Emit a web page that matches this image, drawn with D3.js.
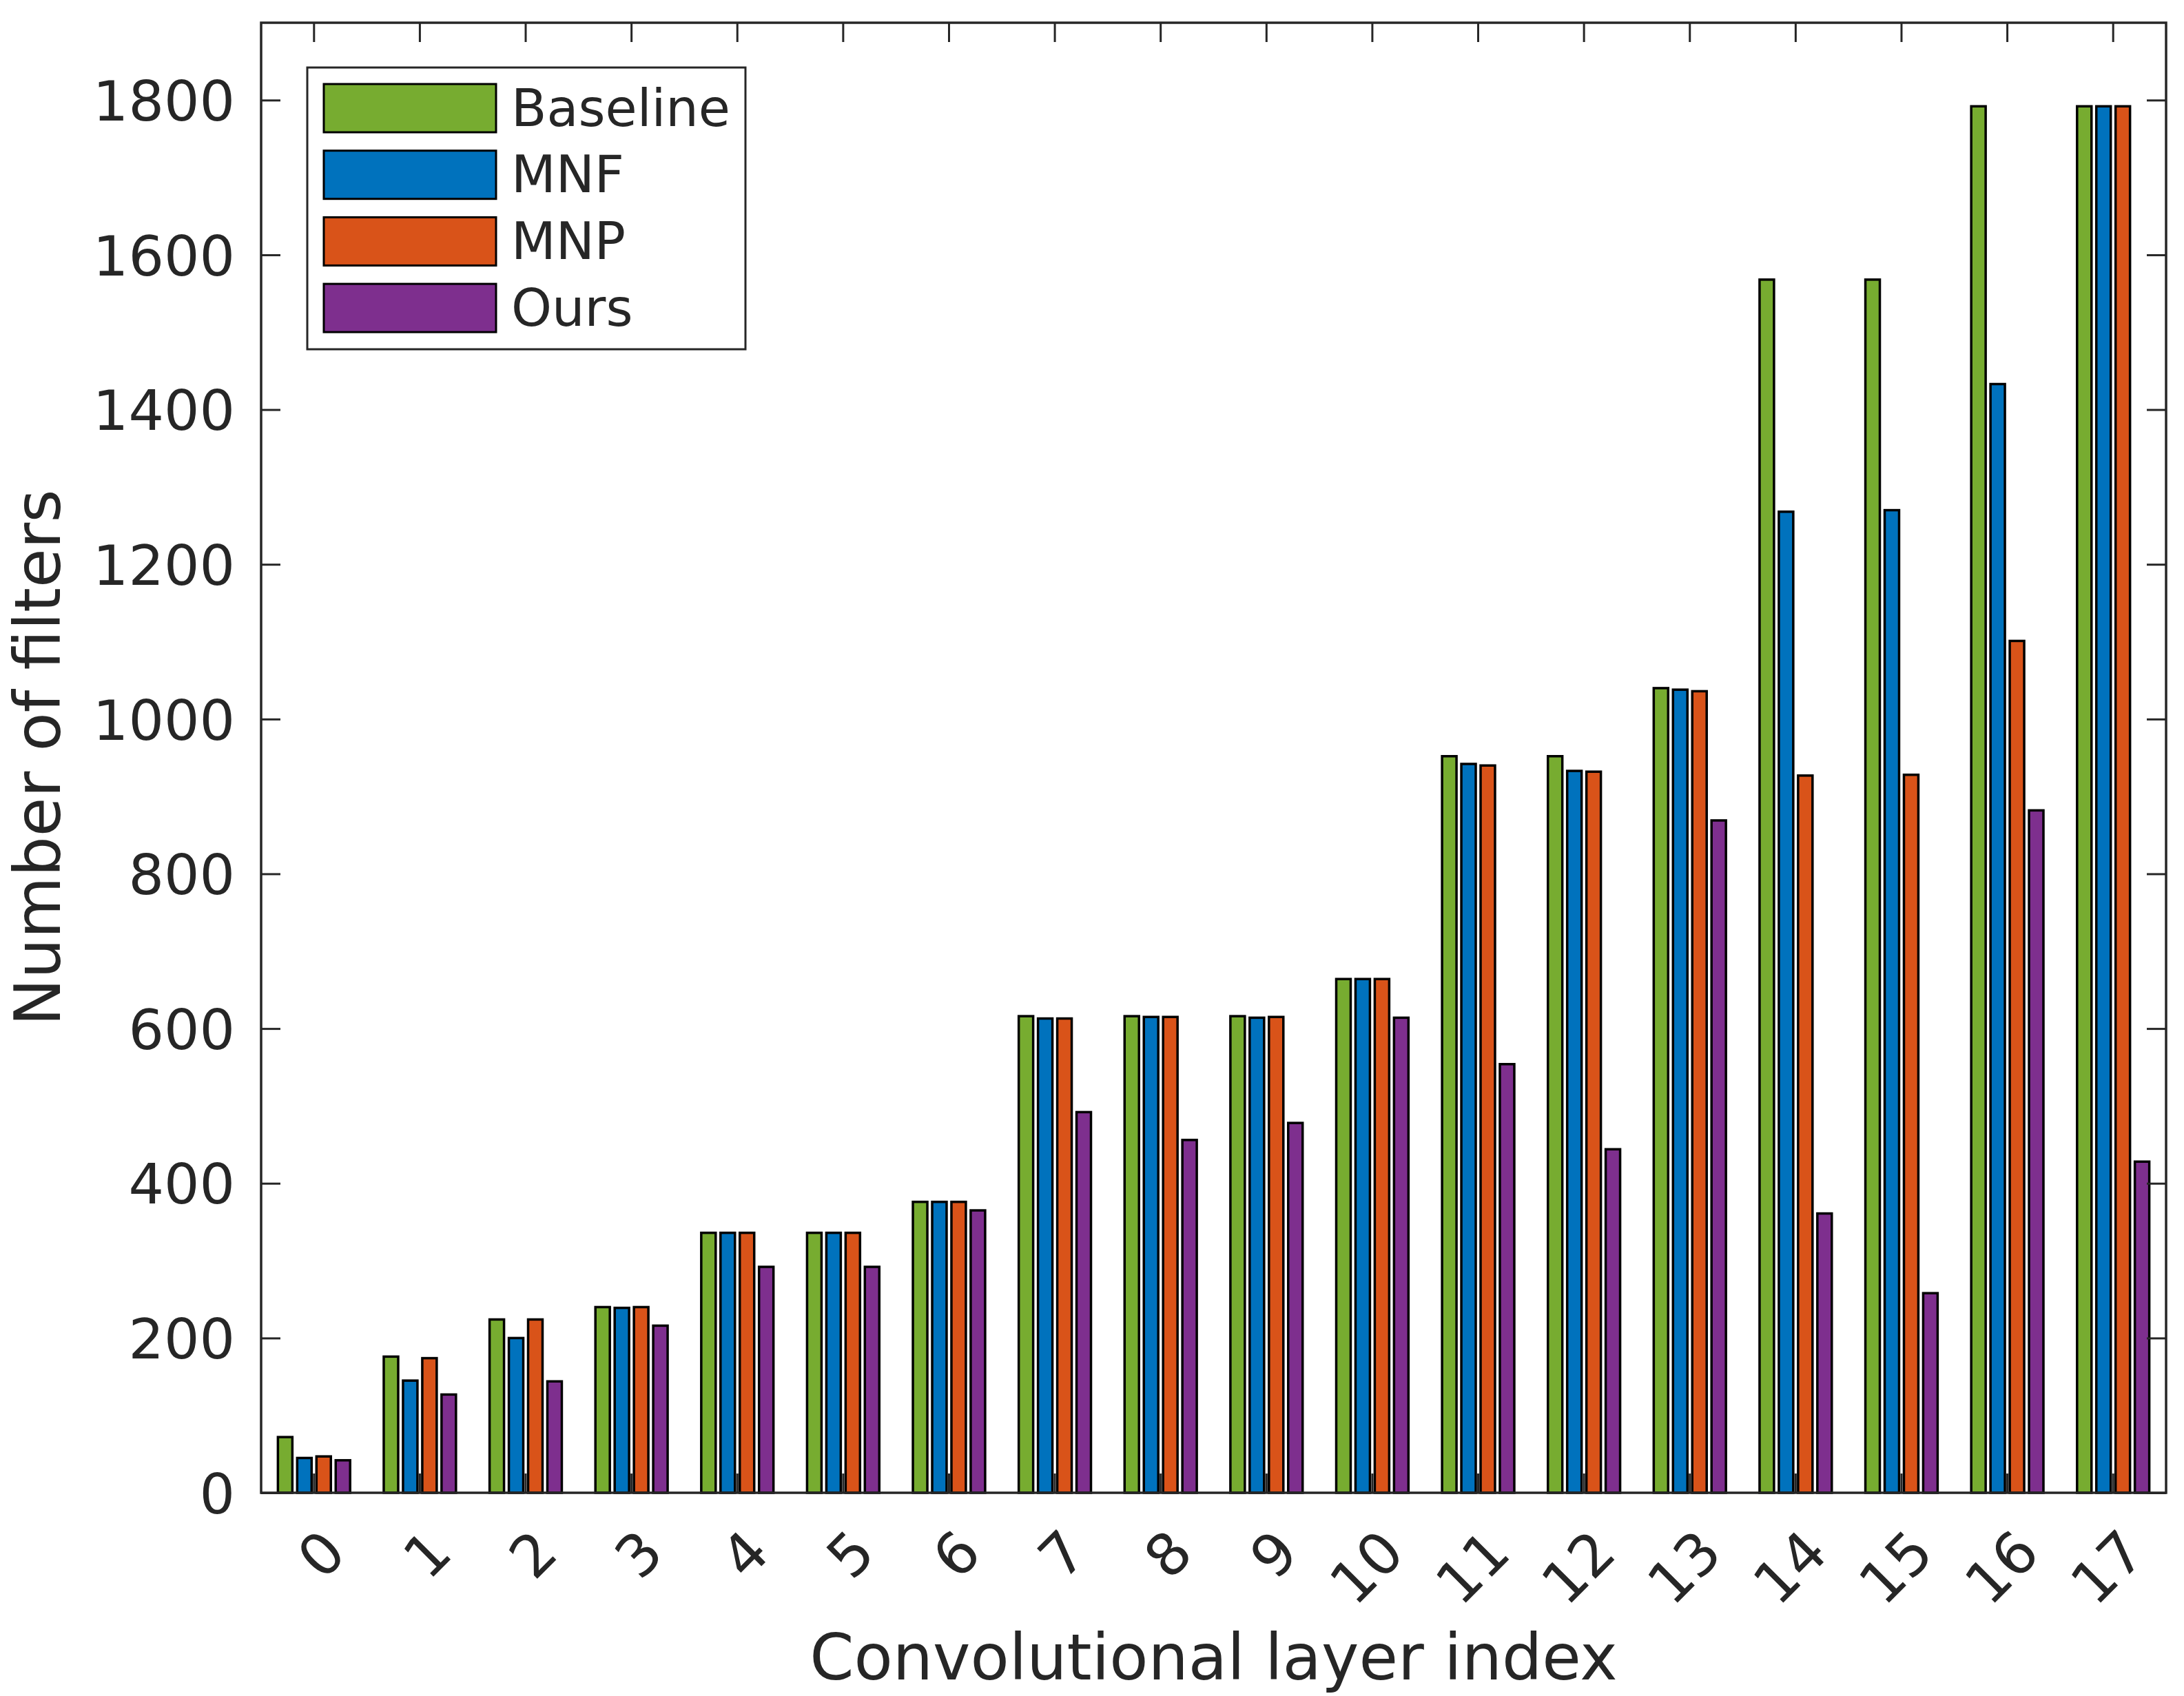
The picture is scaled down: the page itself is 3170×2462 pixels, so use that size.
<!DOCTYPE html>
<html>
<head>
<meta charset="utf-8">
<script src="https://cdn.jsdelivr.net/npm/d3@7"></script>
<style>
body { margin: 0; background: #ffffff; }
text { font-family: "DejaVu Sans", sans-serif; fill: #262626; }
</style>
</head>
<body>
<svg id="filtergraph"></svg>
<script>
// number of filters per convolutional layer
var layers = ["0","1","2","3","4","5","6","7","8","9","10","11","12","13","14","15","16","17"]
var baseline = [72, 176, 224, 240, 336, 336, 376, 616, 616, 616, 664, 952, 952, 1040, 1568, 1568, 1792, 1792]
var mnf      = [45, 145, 200, 239, 336, 336, 376, 613, 615, 614, 664, 942, 933, 1038, 1268, 1270, 1433, 1792]
var mnp      = [47, 174, 224, 240, 336, 336, 376, 613, 615, 615, 664, 940, 932, 1036, 927, 928, 1101, 1792]
var ours     = [42, 127, 144, 216, 292, 292, 365, 492, 456, 478, 614, 554, 444, 869, 361, 258, 882, 428]

var seriesNames = ["Baseline", "MNF", "MNP", "Ours"]
var seriesColors = ["#77AC30", "#0072BD", "#D95319", "#7E2F8E"]
var yTicks = [0, 200, 400, 600, 800, 1000, 1200, 1400, 1600, 1800]
var yMax = 1900

//draws the grouped bars, one pass per series
var drawBars = function(target, series, xScale, yScale)
{
    var band = xScale.bandwidth()
    var slot = band * 0.182
    var barW = slot * 0.75

    series.forEach(function(s, k)
    {
        target.append("g")
              .classed("series", true)
              .selectAll("rect")
              .data(s.values)
              .enter()
              .append("rect")
              .attr("x", function(v, i)
              {
                  return xScale(layers[i]) + band / 2 + (k - 1.5) * slot - barW / 2
              })
              .attr("y", function(v) { return yScale(v) })
              .attr("width", barW)
              .attr("height", function(v) { return yScale(0) - yScale(v) })
              .attr("fill", s.color)
              .attr("stroke", "#000000")
              .attr("stroke-width", 3.5)
    })
}

//all four sides, ticks pointing inward like the original figure
var drawAxes = function(svg, plot, xScale, yScale)
{
    var tickLen = 28

    var styleAxis = function(g)
    {
        g.select(".domain").remove()
        g.selectAll(".tick line")
         .attr("stroke", "#262626")
         .attr("stroke-width", 3)
    }

    var xAxis = d3.axisBottom(xScale).tickSize(-tickLen).tickSizeOuter(0)
    var gx = svg.append("g")
       .attr("transform", "translate(0," + plot.bottom + ")")
       .call(xAxis)
       .call(styleAxis)
    gx.selectAll(".tick text")
      .attr("y", null)
      .attr("dy", "0.93em")
      .attr("text-anchor", "end")
      .attr("transform", "translate(-5,36) rotate(-45)")
      .style("font-size", "84px")
      .attr("fill", "#262626")

    var yAxis = d3.axisLeft(yScale)
        .tickValues(yTicks)
        .tickFormat(d3.format("d"))
        .tickSize(-tickLen)
        .tickSizeOuter(0)
        .tickPadding(38)
    var gy = svg.append("g")
       .attr("transform", "translate(" + plot.left + ",0)")
       .call(yAxis)
       .call(styleAxis)
    gy.selectAll(".tick text")
      .style("font-size", "81px")
      .attr("fill", "#262626")
      .attr("dy", "0.36em")

    svg.append("g")
       .attr("transform", "translate(0," + plot.top + ")")
       .call(d3.axisTop(xScale).tickSize(-tickLen).tickSizeOuter(0).tickFormat(""))
       .call(styleAxis)

    svg.append("g")
       .attr("transform", "translate(" + plot.right + ",0)")
       .call(d3.axisRight(yScale).tickValues(yTicks).tickSize(-tickLen).tickSizeOuter(0).tickFormat(""))
       .call(styleAxis)

    //box around the plot area
    svg.append("rect")
       .attr("x", plot.left)
       .attr("y", plot.top)
       .attr("width", plot.right - plot.left)
       .attr("height", plot.bottom - plot.top)
       .attr("fill", "none")
       .attr("stroke", "#262626")
       .attr("stroke-width", 3.5)
}

var drawLabels = function(svg, plot)
{
    var labels = svg.append("g").classed("labels", true)

    //x-axis
    labels.append("text")
          .text("Convolutional layer index")
          .attr("text-anchor", "middle")
          .attr("x", (plot.left + plot.right) / 2)
          .attr("y", 2438)
          .style("font-size", "92px")

    //y-axis
    labels.append("g")
          .attr("transform", "translate(87," + ((plot.top + plot.bottom) / 2) + ")")
          .append("text")
          .text("Number of filters")
          .attr("text-anchor", "middle")
          .attr("transform", "rotate(-90)")
          .style("font-size", "92px")
}

var drawLegend = function(svg, series)
{
    var legend = svg.append("g")
                    .classed("legend", true)
                    .attr("transform", "translate(446,98)")

    legend.append("rect")
          .attr("width", 636)
          .attr("height", 409)
          .attr("fill", "#ffffff")
          .attr("stroke", "#262626")
          .attr("stroke-width", 3)

    var entries = legend.selectAll("g.legendEntry")
                        .data(series)
                        .enter()
                        .append("g")
                        .classed("legendEntry", true)
                        .attr("transform", function(s, index)
                        {
                            return "translate(0," + (59 + index * 96.7) + ")"
                        })

    entries.append("rect")
           .attr("x", 24)
           .attr("y", -35)
           .attr("width", 250)
           .attr("height", 70)
           .attr("fill", function(s) { return s.color })
           .attr("stroke", "#000000")
           .attr("stroke-width", 3)

    entries.append("text")
           .text(function(s) { return s.name })
           .attr("x", 296)
           .attr("dy", "0.34em")
           .style("font-size", "75px")
           .attr("fill", "#000000")
}

var initFilterGraph = function()
{
    var screen = {width: 3170, height: 2462}
    var plot = {left: 379, right: 3144, top: 33, bottom: 2167}

    var svg = d3.select("#filtergraph")
                .attr("width", screen.width)
                .attr("height", screen.height)

    var xScale = d3.scaleBand()
        .domain(layers)
        .range([plot.left, plot.right])
        .padding(0)

    var yScale = d3.scaleLinear()
        .domain([0, yMax])
        .range([plot.bottom, plot.top])

    var series = [baseline, mnf, mnp, ours].map(function(values, k)
    {
        return {name: seriesNames[k], color: seriesColors[k], values: values}
    })

    drawBars(svg.append("g").classed("bars", true), series, xScale, yScale)
    drawAxes(svg, plot, xScale, yScale)
    drawLabels(svg, plot)
    drawLegend(svg, series)
}

initFilterGraph()
</script>
</body>
</html>
